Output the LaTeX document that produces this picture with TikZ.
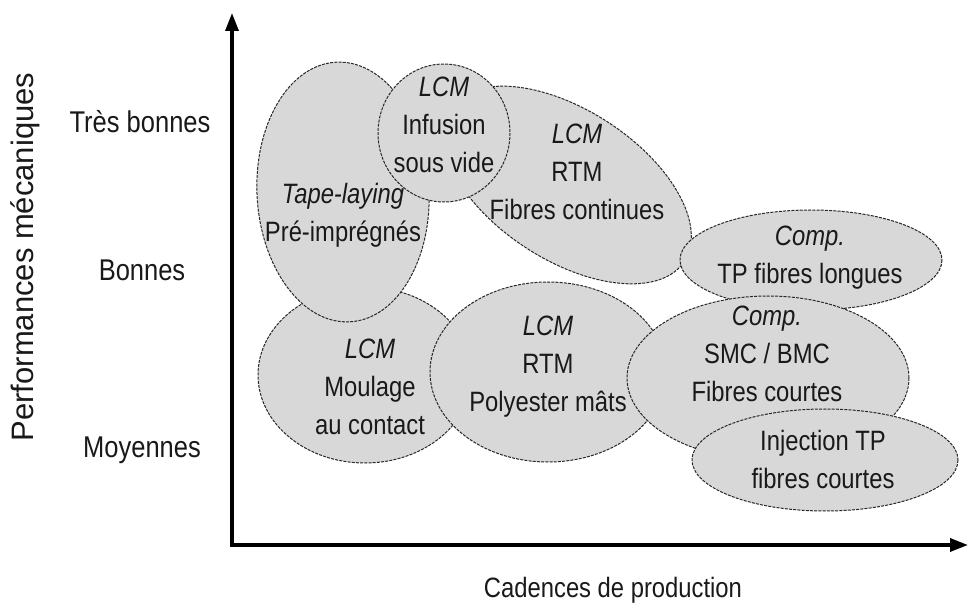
\documentclass[tikz,border=0pt]{standalone}
\usepackage{fontspec}
\setmainfont{Liberation Sans}[FakeStretch=0.85]
\newfontfamily\widefont{Liberation Sans}
\usetikzlibrary{arrows.meta}
\definecolor{blobfill}{RGB}{216,216,216}
\definecolor{blobline}{RGB}{40,40,40}
\definecolor{txt}{RGB}{25,25,25}
\begin{document}
\begin{tikzpicture}[x=1pt,y=-1pt,
  blob/.style={fill=blobfill,draw=blobline,line width=1pt,dash pattern=on 3pt off 1.2pt},
  lbl/.style={align=center,font=\fontsize{28}{38}\selectfont,text=txt,inner sep=0pt},
  lvl/.style={font=\fontsize{30}{36}\selectfont,text=txt,inner sep=0pt},
  axis/.style={line width=3.5pt,line join=miter,{Triangle[length=18pt,width=13pt]}-{Triangle[length=18pt,width=13pt]}}]
\useasboundingbox (0,0) rectangle (970,612);

% axes
\coordinate (ytip) at (232,13);
\coordinate (orig) at (232,545);
\coordinate (xtip) at (968,545);
\draw[axis] (ytip) -- (orig) -- (xtip);

% axis titles and levels
\node[lvl,font=\widefont\fontsize{31}{36}\selectfont,rotate=90] (ytitle) at (25,257) {Performances mécaniques};
\node[lbl] (xtitle) at (613,590) {Cadences de production};
\node[lvl] (tb) at (140,122) {Très bonnes};
\node[lvl] (bo) at (142,270) {Bonnes};
\node[lvl] (mo) at (142,450) {Moyennes};

% blobs (drawn bottom to top)
\draw[blob] (365,375) ellipse [x radius=107, y radius=88];
\node[lbl] (moul) at (370,387) {\textit{LCM}\\Moulage\\au contact};

\draw[blob, rotate around={3:(343,192)}] (343,192) ellipse [x radius=86, y radius=130];
\node[lbl] (tape) at (343,215) {\textit{Tape-laying}\\Pré-imprégnés};

\draw[blob] (548,372) ellipse [x radius=118, y radius=90];
\node[lbl] (poly) at (548,367) {\textit{LCM}\\RTM\\Polyester mâts};

\draw[blob, rotate around={-33:(567,185)}] (567,185) ellipse [x radius=140, y radius=75];
\node[lbl] (rtmc) at (577,172) {\textit{LCM}\\RTM\\Fibres continues};

\draw[blob] (444,133) ellipse [x radius=66, y radius=69];
\node[lbl] (infu) at (444,125) {\textit{LCM}\\Infusion\\sous vide};

\draw[blob] (811,260) ellipse [x radius=131, y radius=50];
\node[lbl] (tpl) at (810,258) {\textit{Comp.}\\TP fibres longues};

\draw[blob] (768,378) ellipse [x radius=141, y radius=82];
\node[lbl] (smc) at (767,354) {\textit{Comp.}\\SMC / BMC\\Fibres courtes};

\draw[blob] (825,460) ellipse [x radius=133, y radius=51];
\node[lbl] (inj) at (823,459) {Injection TP\\fibres courtes};
\end{tikzpicture}
\end{document}
